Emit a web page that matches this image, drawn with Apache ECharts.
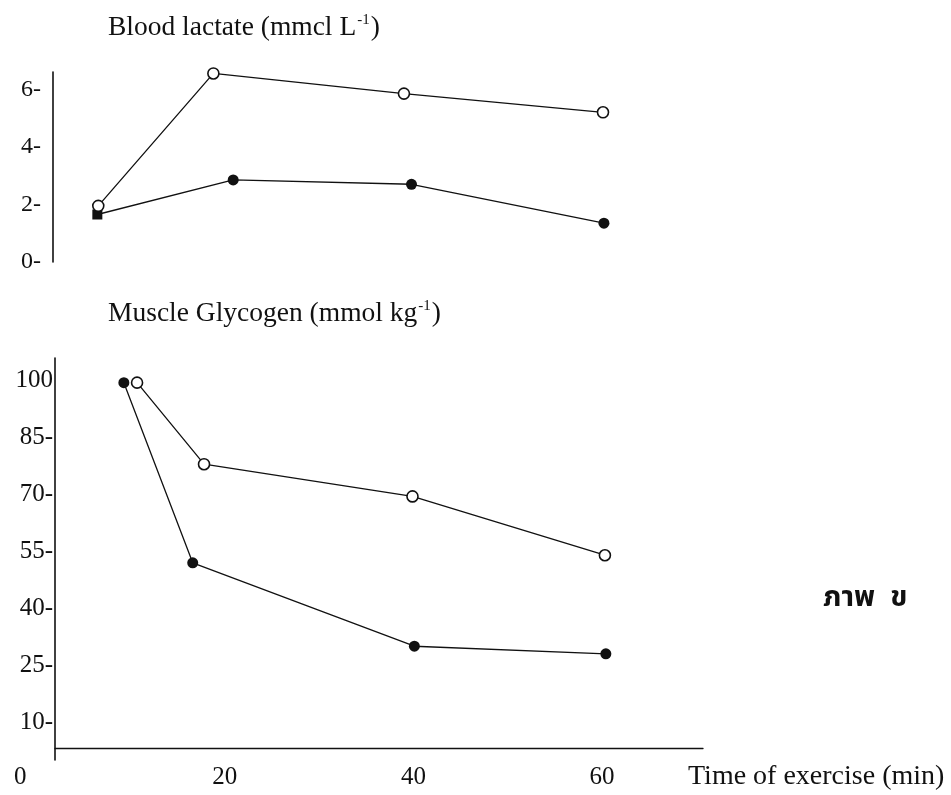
<!DOCTYPE html>
<html>
<head>
<meta charset="utf-8">
<script src="https://cdn.jsdelivr.net/npm/echarts@6/dist/echarts.min.js"></script>
<style>
  html, body { margin: 0; padding: 0; background: #fff; }
  #chart { width: 951px; height: 795px; }
</style>
</head>
<body>
<div id="chart"></div>
<script>
// Blood lactate (mmol/L) over exercise time (min)
const lactateOpenTime   = [6.6, 18.8, 39.0, 60.1];
const lactateOpenValue  = [1.95, 6.55, 5.85, 5.2];
const lactateFilledTime = [6.5, 20.9, 39.8, 60.2];
const lactateFilledValue = [1.65, 2.85, 2.7, 1.35];

// Muscle glycogen (mmol/kg) over exercise time (min)
const glycogenOpenTime    = [10.7, 17.8, 39.9, 60.3];
const glycogenOpenValue   = [99.5, 78, 69.5, 54];
const glycogenFilledTime  = [9.3, 16.6, 40.1, 60.4];
const glycogenFilledValue = [99.5, 52, 30, 28];

// Tick labels
const timeTicks = [20, 40, 60];
const lactateTicks = [0, 2, 4, 6];
const glycogenTicks = [10, 25, 40, 55, 70, 85, 100];

const SERIF = '"Liberation Serif", "Times New Roman", serif';
const INK = '#111';

function pairs(xs, ys) { return xs.map((x, i) => [x, ys[i]]); }

const chart = echarts.init(document.getElementById('chart'), null, { renderer: 'canvas' });

const lineStyle = { color: INK, width: 1.3 };
const openItem = { color: '#fff', borderColor: INK, borderWidth: 1.6 };
const filledItem = { color: INK, borderColor: INK, borderWidth: 0 };

const filledLactate = pairs(lactateFilledTime, lactateFilledValue).map((p, i) =>
  i === 0 ? { value: p, symbol: 'rect', symbolSize: 10 } : p);

// Heading with a superscript unit exponent
const headingRich = {
  a: { fontFamily: SERIF, fontSize: 27.5, fontWeight: 'normal', color: INK, lineHeight: 30 },
  s: { fontFamily: SERIF, fontSize: 15, fontWeight: 'normal', color: INK, verticalAlign: 'top', lineHeight: 30, padding: [0, 1, 12, 1] }
};

chart.setOption({
  animation: false,
  backgroundColor: '#fff',
  textStyle: { fontFamily: SERIF, color: INK },
  title: [
    {
      left: 108, top: 13, padding: 0,
      text: '{a|Blood lactate (mmcl L}{s|-1}{a|)}',
      textStyle: { fontWeight: 'normal', rich: headingRich }
    },
    {
      left: 108, top: 299, padding: 0,
      text: '{a|Muscle Glycogen (mmol kg}{s|-1}{a|)}',
      textStyle: { fontWeight: 'normal', rich: headingRich }
    },
    {
      left: 688, top: 763, padding: 0,
      text: 'Time of exercise (min)',
      textStyle: { fontFamily: SERIF, fontSize: 28, fontWeight: 'normal', color: INK }
    },
    {
      left: 823, top: 586, padding: 0,
      text: 'ภาพ  ข',
      textStyle: { fontFamily: '"Noto Sans Thai", "Loma", "Garuda", "Norasi", sans-serif', fontSize: 29, fontWeight: 'bold', color: INK }
    }
  ],
  graphic: [
    {
      type: 'text', left: 14, top: 765,
      style: { text: '0', font: '25px ' + SERIF, fill: INK }
    }
  ],
  grid: [
    { left: 53, top: 72, width: 650, height: 190 },
    { left: 55, top: 358, width: 648, height: 402 }
  ],
  xAxis: [
    {
      gridIndex: 0, type: 'value', min: 1.8, max: 70.7,
      axisLine: { show: false }, axisTick: { show: false },
      axisLabel: { show: false }, splitLine: { show: false }
    },
    {
      gridIndex: 1, type: 'value', min: 2, max: 70.7, offset: -12,
      axisLine: { show: true, onZero: false, lineStyle: { color: INK, width: 1.3 } },
      axisTick: { show: false },
      splitLine: { show: false },
      axisLabel: {
        customValues: timeTicks, margin: 17,
        fontFamily: SERIF, fontSize: 25, color: INK
      }
    }
  ],
  yAxis: [
    {
      gridIndex: 0, type: 'value', min: 0, max: 6.6,
      axisLine: { show: true, lineStyle: { color: INK, width: 1.6 } },
      axisTick: { show: false }, splitLine: { show: false },
      axisLabel: {
        customValues: lactateTicks, margin: 12,
        formatter: v => v + '-',
        fontFamily: SERIF, fontSize: 24, color: INK
      }
    },
    {
      gridIndex: 1, type: 'value', min: 0, max: 106,
      axisLine: { show: true, lineStyle: { color: INK, width: 1.6 } },
      axisTick: { show: false }, splitLine: { show: false },
      axisLabel: {
        customValues: glycogenTicks, margin: 2,
        formatter: v => (v === 100 ? '100' : v + '-'),
        fontFamily: SERIF, fontSize: 25, color: INK
      }
    }
  ],
  series: [
    {
      type: 'line', xAxisIndex: 0, yAxisIndex: 0, z: 2,
      data: filledLactate, symbol: 'circle', symbolSize: 11,
      lineStyle, itemStyle: filledItem
    },
    {
      type: 'line', xAxisIndex: 0, yAxisIndex: 0, z: 3,
      data: pairs(lactateOpenTime, lactateOpenValue), symbol: 'circle', symbolSize: 11,
      lineStyle, itemStyle: openItem
    },
    {
      type: 'line', xAxisIndex: 1, yAxisIndex: 1, z: 2,
      data: pairs(glycogenFilledTime, glycogenFilledValue), symbol: 'circle', symbolSize: 11,
      lineStyle, itemStyle: filledItem
    },
    {
      type: 'line', xAxisIndex: 1, yAxisIndex: 1, z: 3,
      data: pairs(glycogenOpenTime, glycogenOpenValue), symbol: 'circle', symbolSize: 11,
      lineStyle, itemStyle: openItem
    }
  ]
});
</script>
</body>
</html>
